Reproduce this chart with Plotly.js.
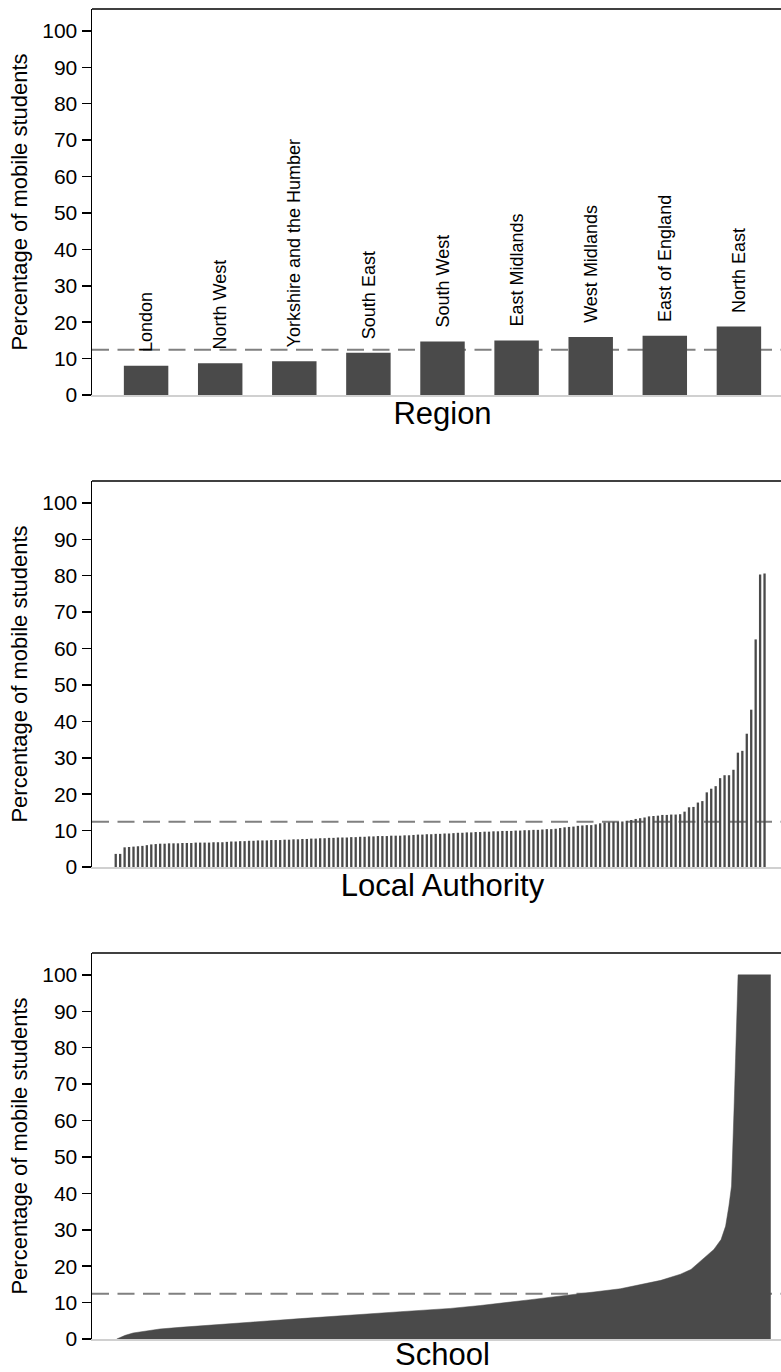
<!DOCTYPE html>
<html><head><meta charset="utf-8">
<script src="https://cdn.plot.ly/plotly-3.0.1.min.js"></script>
<style>html,body{margin:0;padding:0;overflow:hidden;background:#fff}#chart{width:820px;height:1372px}</style>
</head><body><div id="chart"></div><script>
// ---- data ----
const regionNames = ["London","North West","Yorkshire and the Humber","South East","South West","East Midlands","West Midlands","East of England","North East"];
const regionPct = [8.0, 8.7, 9.3, 11.6, 14.7, 15.0, 15.9, 16.3, 18.8];

const laPct = [
 3.6,3.6,5.4,5.5,5.6,5.7,5.8,6.0,6.2,6.3,6.4,6.4,6.5,6.5,6.5,6.6,6.6,6.6,6.7,6.7,6.7,6.7,6.8,6.8,
 6.8,6.9,7.0,7.0,7.1,7.1,7.2,7.2,7.3,7.3,7.3,7.4,7.4,7.4,7.5,7.5,7.6,7.6,7.7,7.7,7.8,7.8,7.9,7.9,8.0,8.0,8.1,
 8.1,8.1,8.2,8.2,8.3,8.3,8.4,8.4,8.5,8.5,8.5,8.6,8.6,8.6,8.7,8.7,8.8,8.9,8.9,9.0,9.0,9.1,9.1,9.2,9.2,9.3,
 9.4,9.4,9.5,9.5,9.6,9.6,9.7,9.7,9.8,9.8,9.9,9.9,9.9,10.0,10.0,10.1,10.1,10.2,10.2,10.3,10.4,10.4,10.5,10.7,10.9,11.0,
 11.1,11.3,11.4,11.5,11.5,11.7,12.0,12.2,12.3,12.4,12.4,12.5,12.7,12.9,13.2,13.4,13.6,13.9,14.0,
 14.1,14.3,14.3,14.4,14.4,14.5,15.2,16.4,16.5,17.7,18.1,20.5,21.5,22.2,24.4,25.2,25.2,26.7,31.4,31.9,36.6,43.2,62.5,80.3,80.6
];

const schoolRankPct = [0, 1.3, 2.5, 4.3, 6.6, 9.7, 12.8, 20.4, 28.1, 35.7, 43.4, 51.0, 55.6, 63.3, 70.9, 77.0, 83.2, 86.2, 87.8, 89.3, 90.2, 91.3, 92.4, 93.1, 93.6, 94.0, 94.4, 94.8, 95.0, 100];
const schoolPct     = [0, 1.0, 1.65, 2.2, 2.75, 3.2, 3.55, 4.6, 5.6, 6.6, 7.5, 8.4, 9.2, 10.8, 12.5, 13.8, 16.1, 17.8, 19.1, 21.4, 23.0, 24.6, 27.3, 31.0, 36.5, 42.0, 64.0, 86.9, 100, 100];

const nationalMean = 12.4;
const yTickVals = [0,10,20,30,40,50,60,70,80,90,100];
const gridVals12 = [10,20,30,40,50,60,70,80,90];
const gridVals3 = [10,20,30,40,50,60,70,80,90,100];
const xTitles = ["Region","Local Authority","School"];
const yTitle = "Percentage of mobile students";

// ---- style ----
const FONT = "Liberation Sans, Arial, sans-serif";
const BAR = "#4a4a4a";
const GRID = "#d6d6d6";
const H = 1372, MT = 9, MB = 33, PH = H - MT - MB;
const dom = (top, bottom) => [(H - MB - bottom) / PH, (H - MB - top) / PH];
const domains = [dom(9, 395), dom(481, 867), dom(953, 1339)];
const laIdx = laPct.map((_, i) => i);

const traces = [
  {type:'bar', x: regionNames, y: regionPct, xaxis:'x', yaxis:'y', marker:{color:BAR, line:{width:0}}, width:0.6},
  {type:'bar', x: laIdx, y: laPct, xaxis:'x2', yaxis:'y2', marker:{color:BAR, line:{width:0}}, width:0.52},
  {type:'scatter', mode:'lines', x: schoolRankPct, y: schoolPct, xaxis:'x3', yaxis:'y3', fill:'tozeroy', fillcolor:BAR, line:{color:BAR, width:0.5}}
];

function yAxis(i, anchor) {
  return {
    domain: domains[i], anchor: anchor, range:[0,106], fixedrange:true,
    tickvals: yTickVals, ticktext: yTickVals.map(String), ticks:'outside', ticklen:9, tickwidth:1.5, tickcolor:'#000',
    showgrid:false, zeroline:false, showline:true, linecolor:'#000', linewidth:1.5,
    tickfont:{family:FONT, size:21, color:'#000'},
    title:{text:yTitle, font:{family:FONT, size:22, color:'#000'}, standoff:8}
  };
}
function gridAxis(over, anchor, vals) {
  return {overlaying: over, anchor: anchor, range:[0,106], tickvals: vals, showticklabels:false, ticks:'',
          showgrid:true, gridcolor:GRID, gridwidth:1.5, zeroline:false, showline:false};
}
function xAxis(i, anchor, range, extra) {
  return Object.assign({
    domain:[0,1], anchor: anchor, range: range, showticklabels:false, ticks:'', showgrid:false, zeroline:false,
    showline:true, linecolor:'#d0d0d0', linewidth:1.5,
    title:{text:xTitles[i], font:{family:FONT, size:31, color:'#000'}, standoff:7}
  }, extra || {});
}

const annotations = regionNames.map((name, k) => ({
  x: name, y: regionPct[k], xref:'x', yref:'y', text: name, showarrow:false,
  textangle:-90, xanchor:'center', yanchor:'bottom', yshift:12,
  font:{family:FONT, size:18, color:'#000'}
}));

const shapes = [];
[['x','y'],['x2','y2'],['x3','y3']].forEach(([xa, ya]) => {
  shapes.push({type:'line', xref: xa + ' domain', yref: ya, x0:0, x1:1, y0:nationalMean, y1:nationalMean,
               line:{color:'#808080', width:2, dash:'17px,8.5px'}, layer:'below'});
  shapes.push({type:'line', xref: xa + ' domain', yref: ya + ' domain', x0:0, x1:1, y0:1, y1:1,
               line:{color:'#000', width:1.5}, layer:'above'});
});

const layout = {
  width: 820, height: H, margin:{l:92, r:27, t:MT, b:MB}, showlegend:false,
  paper_bgcolor:'#fff', plot_bgcolor:'rgba(0,0,0,0)', font:{family:FONT, color:'#000'},
  xaxis: xAxis(0, 'y', [-0.73, 8.73], {type:'category'}),
  xaxis2: xAxis(1, 'y2', [-5.34, 152.4]),
  xaxis3: xAxis(2, 'y3', [-3.78, 103.4]),
  yaxis: yAxis(0, 'x'),
  yaxis2: yAxis(1, 'x2'),
  yaxis3: yAxis(2, 'x3'),
  yaxis4: gridAxis('y', 'x', gridVals12),
  yaxis5: gridAxis('y2', 'x2', gridVals12),
  yaxis6: gridAxis('y3', 'x3', gridVals3),
  annotations: annotations, shapes: shapes, bargap:0.4
};

Plotly.newPlot('chart', traces, layout, {displayModeBar:false, staticPlot:true});
</script></body></html>
